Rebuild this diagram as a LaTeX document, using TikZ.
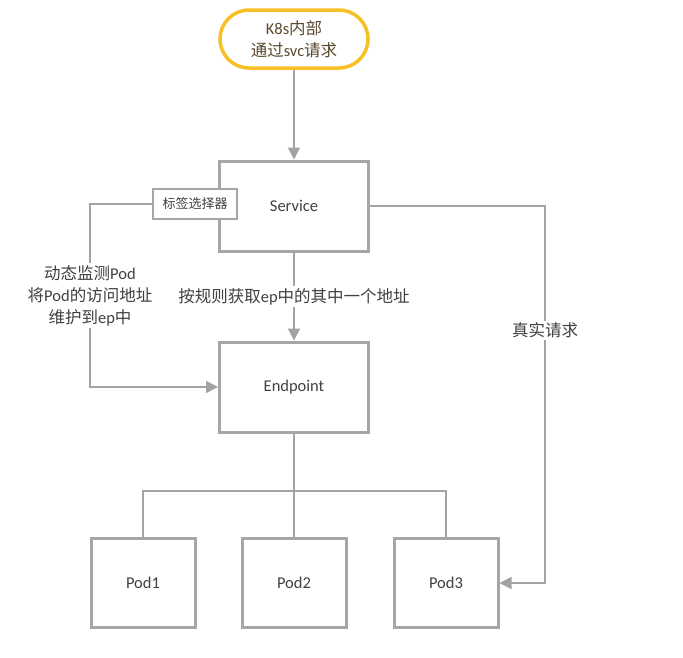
\documentclass[tikz,border=0pt]{standalone}
\usepackage{fontspec}
\setmainfont{Carlito}
\newfontfamily\cjk{Noto Sans CJK SC}
\newcommand{\zh}[1]{{\cjk #1}}
\usetikzlibrary{arrows.meta}
\definecolor{boxgray}{HTML}{A6A6A6}
\definecolor{linegray}{HTML}{A3A3A3}
\definecolor{txtgray}{HTML}{404040}
\definecolor{startyellow}{HTML}{F6C026}
\definecolor{starttext}{HTML}{5A4A2E}
\begin{document}
\begin{tikzpicture}[
    x=1pt, y=-1pt,
    box/.style={
      draw=boxgray,
      line width=3pt,
      fill=white,
      minimum width=149pt,
      minimum height=90pt,
      text=txtgray,
      font=\fontsize{16.5}{22}\selectfont
    },
    pod/.style={
      box,
      minimum width=104pt,
      minimum height=89pt
    },
    start/.style={
      draw=startyellow,
      line width=3.5pt,
      rounded corners=29pt,
      minimum width=148pt,
      minimum height=58pt,
      align=center,
      text=starttext,
      font=\fontsize{16.5}{22}\selectfont
    },
    selector/.style={
      draw=boxgray,
      line width=1.2pt,
      fill=white,
      minimum width=84pt,
      minimum height=30pt,
      text=txtgray,
      font=\fontsize{13}{16}\selectfont
    },
    link/.style={draw=linegray, line width=1.5pt},
    arrow/.style={link, -{Triangle[length=12pt,width=12pt]}},
    lbl/.style={
      fill=white,
      text=txtgray,
      align=center,
      inner sep=2pt,
      font=\fontsize{16.5}{22}\selectfont
    }
  ]
    \useasboundingbox[fill=white] (0,0) rectangle (683,657);

    \node[start] (start) at (294,39) {K8s\zh{内部}\\\zh{通过}svc\zh{请求}};
    \node[box] (service) at (294,206) {Service};
    \node[selector] (selector) at (195,204) {\zh{标签选择器}};
    \node[box] (endpoint) at (294,387) {Endpoint};
    \node[pod] (pod1) at (143,583) {Pod1};
    \node[pod] (pod2) at (294,583) {Pod2};
    \node[pod] (pod3) at (446,583) {Pod3};

    \coordinate (lturn) at (90,204);
    \coordinate (rturn) at (545,206);
    \coordinate (bus) at (294,491);

    \draw[arrow] (start) -- (service);
    \draw[arrow] (service) -- node[lbl] {\zh{按规则获取}ep\zh{中的其中一个地址}} (endpoint);
    \draw[arrow] (selector.west) -- (lturn) |- node[lbl, pos=0.25]
      {\zh{动态监测}Pod\\\zh{将}Pod\zh{的访问地址}\\\zh{维护到}ep\zh{中}} (endpoint.west);
    \draw[arrow] (service.east) -- (rturn) |- node[lbl, pos=0.165] {\zh{真实请求}} (pod3.east);
    \draw[link] (endpoint.south) -- (pod2.north);
    \draw[link] (pod1.north) |- (bus) -| (pod3.north);
  \end{tikzpicture}
\end{document}
